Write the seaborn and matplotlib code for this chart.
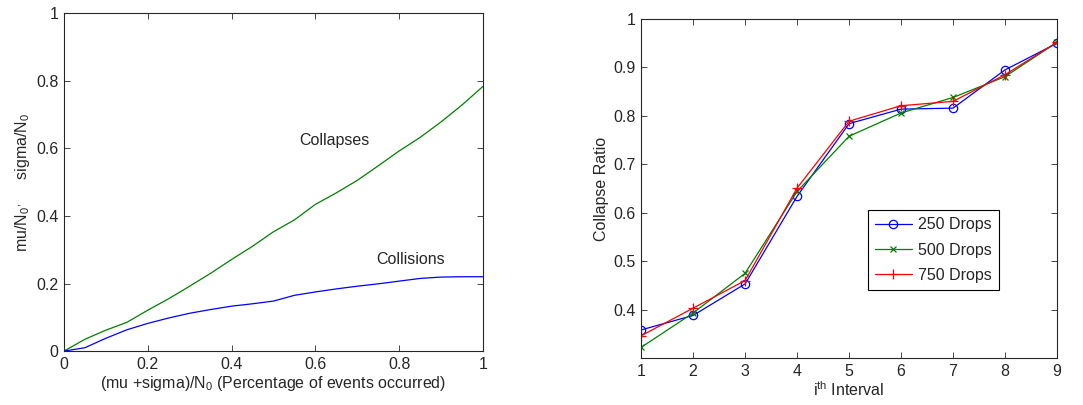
import numpy as np
import pandas as pd
import matplotlib
matplotlib.use("Agg")
import matplotlib.pyplot as plt
import seaborn as sns
from matplotlib.ticker import FuncFormatter

# left panel: fraction of events occurred vs. collapses / collisions
frac = [0, 0.05, 0.1, 0.15, 0.2, 0.25, 0.3, 0.35, 0.4, 0.45, 0.5,
        0.55, 0.6, 0.65, 0.7, 0.75, 0.8, 0.85, 0.9, 0.95, 1.0]
collapses = [0, 0.035, 0.062, 0.085, 0.121, 0.155, 0.192, 0.230, 0.271, 0.310, 0.353,
             0.388, 0.434, 0.468, 0.505, 0.548, 0.592, 0.632, 0.678, 0.728, 0.783]
collisions = [0, 0.010, 0.038, 0.063, 0.082, 0.098, 0.112, 0.123, 0.133, 0.140, 0.148,
              0.165, 0.175, 0.184, 0.192, 0.199, 0.207, 0.215, 0.219, 0.220, 0.220]

# right panel: collapse ratio per interval
interval = [1, 2, 3, 4, 5, 6, 7, 8, 9]
drops_250 = [0.358, 0.388, 0.453, 0.634, 0.784, 0.814, 0.816, 0.895, 0.950]
drops_500 = [0.322, 0.393, 0.475, 0.644, 0.758, 0.806, 0.838, 0.881, 0.952]
drops_750 = [0.346, 0.403, 0.460, 0.651, 0.789, 0.821, 0.830, 0.885, 0.952]

sns.set_style("ticks")
plt.rcParams['font.family'] = ['Liberation Sans', 'DejaVu Sans']
plt.rcParams['mathtext.fontset'] = 'custom'
plt.rcParams['mathtext.rm'] = 'Liberation Sans'
plt.rcParams['mathtext.it'] = 'Liberation Sans'
FS = 11.5
plt.rcParams['font.size'] = FS

fmt = FuncFormatter(lambda v, p: ('%g' % round(v, 3)))

fig = plt.figure(figsize=(10.83, 4.05), dpi=100)
ax1 = fig.add_axes([0.059, 0.133, 0.387, 0.835])
ax2 = fig.add_axes([0.592, 0.116, 0.384, 0.837])

blue = (0, 0, 1)
green = (0, 0.5, 0)
red = (1, 0, 0)

sns.lineplot(x=frac, y=collapses, ax=ax1, color=green, lw=0.9)
sns.lineplot(x=frac, y=collisions, ax=ax1, color=blue, lw=0.9)
ax1.text(0.561, 0.624, 'Collapses', fontsize=FS, va='center')
ax1.text(0.746, 0.271, 'Collisions', fontsize=FS, va='center')
ax1.set_xlim(0, 1)
ax1.set_ylim(0, 1)
ax1.set_xticks(np.arange(0, 1.01, 0.2))
ax1.set_yticks(np.arange(0, 1.01, 0.2))
ax1.set_xlabel('(mu +sigma)/N$_0$ (Percentage of events occurred)', labelpad=2)
ax1.set_ylabel("mu/N$_0$$^,$     sigma/N$_0$", labelpad=3)

df = pd.DataFrame({
    'interval': interval * 3,
    'ratio': drops_250 + drops_500 + drops_750,
    'series': ['250 Drops'] * 9 + ['500 Drops'] * 9 + ['750 Drops'] * 9,
})
styles = {'250 Drops': ('o', blue, 6), '500 Drops': ('x', green, 5), '750 Drops': ('+', red, 7)}
for name, (mk, col, ms) in styles.items():
    sub = df[df['series'] == name]
    sns.lineplot(data=sub, x='interval', y='ratio', ax=ax2, color=col, lw=0.9,
                 marker=mk, markersize=ms,
                 markerfacecolor='none' if mk == 'o' else col,
                 markeredgecolor=col, markeredgewidth=0.9, label=name)
ax2.set_xlim(1, 9)
ax2.set_ylim(0.3, 1)
ax2.set_xticks(interval)
ax2.set_yticks([0.4, 0.5, 0.6, 0.7, 0.8, 0.9, 1.0])
ax2.set_xlabel('i$^{th}$ Interval', labelpad=1)
ax2.set_ylabel('Collapse Ratio', labelpad=3)
leg = ax2.legend(loc='upper left', bbox_to_anchor=(0.526, 0.46), fancybox=False,
                 edgecolor='black', framealpha=1, fontsize=FS, handlelength=2.3,
                 handletextpad=0.4, borderpad=0.45, labelspacing=0.65)
leg.get_frame().set_linewidth(0.8)

for ax in (ax1, ax2):
    ax.tick_params(direction='in', top=True, right=True, length=4, width=0.6,
                   labelsize=FS, pad=4)
    ax.xaxis.set_major_formatter(fmt)
    ax.yaxis.set_major_formatter(fmt)
    for s in ax.spines.values():
        s.set_visible(True)
        s.set_linewidth(0.8)

fig.savefig('out.png', dpi=100)
